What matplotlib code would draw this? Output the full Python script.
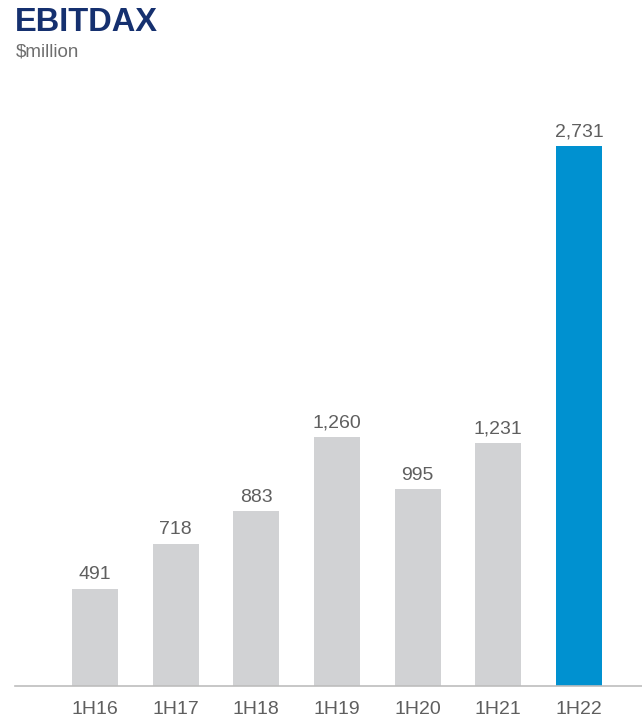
import numpy as np
import matplotlib
matplotlib.use("Agg")
import matplotlib.pyplot as plt

plt.rcParams["font.family"] = ["Liberation Sans", "DejaVu Sans"]

# half-year EBITDAX, $million
periods = ["1H16", "1H17", "1H18", "1H19", "1H20", "1H21", "1H22"]
ebitdax = [491, 718, 883, 1260, 995, 1231, 2731]

GREY = "#D1D2D4"
BLUE = "#0091D0"
NAVY = "#15306F"
TEXT = "#5F5F5F"

W, H = 642, 719
fig = plt.figure(figsize=(W / 100, H / 100), dpi=100)

# axes placed in pixel terms: baseline at y=686, axis line from x=15 to right edge
base_px = 686
top_px = 100
ax = fig.add_axes([15 / W, (H - base_px) / H, 627 / W, (base_px - top_px) / H])

px_per_unit = 540 / 2731
x = np.arange(len(periods))
colors = [GREY] * (len(periods) - 1) + [BLUE]
bars = ax.bar(x, ebitdax, width=0.57, color=colors, zorder=2)

ax.set_xlim((15 - 95) / 80.67, (642 - 95) / 80.67)
ax.set_ylim(0, (base_px - top_px) / px_per_unit)

for b, v in zip(bars, ebitdax):
    ax.annotate(f"{v:,}", (b.get_x() + b.get_width() / 2, v),
                xytext=(0, 4), textcoords="offset points",
                ha="center", va="bottom", fontsize=14, color=TEXT)

ax.set_xticks(x)
ax.set_xticklabels(periods, fontsize=14, color=TEXT)
ax.tick_params(axis="x", length=0, pad=10.5)
ax.set_yticks([])
for side in ["top", "left", "right"]:
    ax.spines[side].set_visible(False)
ax.spines["bottom"].set_color("#BDBDBD")
ax.spines["bottom"].set_linewidth(1.2)

fig.text(15 / W, 1 - 7 / H, "EBITDAX", fontsize=23.5, fontweight="bold",
         color=NAVY, ha="left", va="top")
fig.text(16 / W, 1 - 44 / H, "$million", fontsize=13.5, color="#6E6E6E",
         ha="left", va="top")

fig.savefig("out.png", dpi=100)
